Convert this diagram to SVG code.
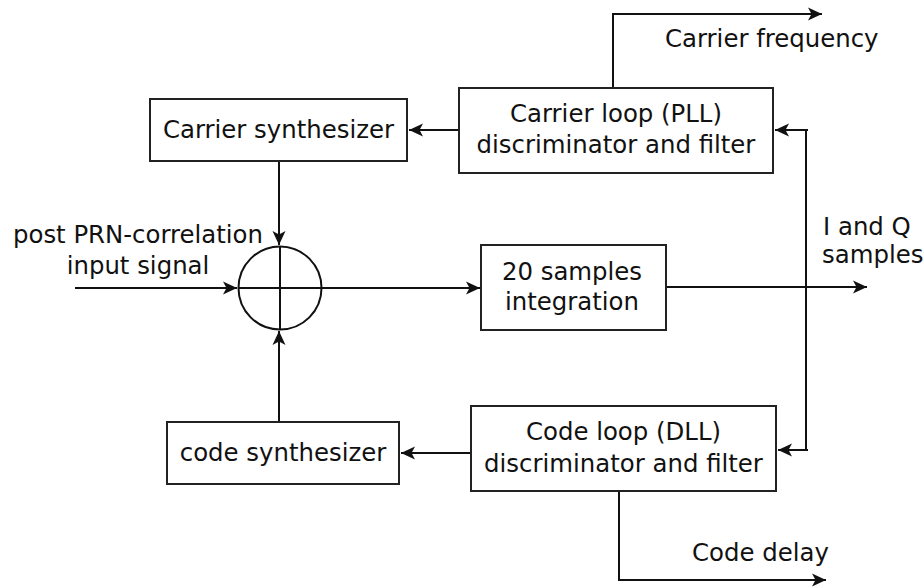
<svg xmlns="http://www.w3.org/2000/svg" width="924" height="588" viewBox="0 0 924 588">
<style>
.box{fill:#fff;stroke:#222;stroke-width:2}
.ln{fill:none;stroke:#111;stroke-width:2}
.t{font-family:"DejaVu Sans",sans-serif;font-size:24.4px;fill:#111}
.c{text-anchor:middle}
</style>
<defs>
<marker id="ah" markerUnits="userSpaceOnUse" markerWidth="16" markerHeight="14" refX="14" refY="7" orient="auto">
<path d="M0,0.5 L14,7 L0,13.5 L3.5,7 z" fill="#111"/>
</marker>
</defs>
<rect width="924" height="588" fill="#fff"/>
<g id="connectors">
<path class="ln" d="M459,130 H409" marker-end="url(#ah)"/>
<path class="ln" d="M613,88 V14 H822" marker-end="url(#ah)"/>
<path class="ln" d="M808,130 H775" marker-end="url(#ah)"/>
<path class="ln" d="M806,130 V450"/>
<path class="ln" d="M808,450 H778" marker-end="url(#ah)"/>
<path class="ln" d="M279,161 V245" marker-end="url(#ah)"/>
<path class="ln" d="M279,422 V331" marker-end="url(#ah)"/>
<path class="ln" d="M75,288 H237" marker-end="url(#ah)"/>
<path class="ln" d="M321,288 H480" marker-end="url(#ah)"/>
<path class="ln" d="M666,287 H867" marker-end="url(#ah)"/>
<path class="ln" d="M471,453 H401" marker-end="url(#ah)"/>
<path class="ln" d="M619,491 V580 H826" marker-end="url(#ah)"/>
</g>
<g id="carrier-synth">
<rect class="box" x="150" y="99" width="257" height="62"/>
<text class="t c" x="278.5" y="138">Carrier synthesizer</text>
</g>
<g id="carrier-loop">
<rect class="box" x="459" y="88" width="314" height="85"/>
<text class="t c" x="616" y="122">Carrier loop (PLL)</text>
<text class="t c" x="616" y="153">discriminator and filter</text>
</g>
<g id="mixer">
<circle cx="280" cy="288" r="41.5" fill="none" stroke="#111" stroke-width="2"/>
<path class="ln" d="M238.5,288 H321.5 M280,246.5 V329.5"/>
</g>
<g id="integration">
<rect class="box" x="481" y="245" width="185" height="85"/>
<text class="t c" x="572" y="280">20 samples</text>
<text class="t c" x="572" y="310">integration</text>
</g>
<g id="code-synth">
<rect class="box" x="167" y="422" width="232" height="62"/>
<text class="t c" x="283" y="461">code synthesizer</text>
</g>
<g id="code-loop">
<rect class="box" x="471" y="406" width="305" height="85"/>
<text class="t c" x="623.5" y="440">Code loop (DLL)</text>
<text class="t c" x="623.5" y="472">discriminator and filter</text>
</g>
<g id="labels">
<text class="t" x="665" y="47">Carrier frequency</text>
<text class="t c" x="138" y="243">post PRN-correlation</text>
<text class="t c" x="138" y="274">input signal</text>
<text class="t" x="823" y="235">I and Q</text>
<text class="t" x="822" y="263">samples</text>
<text class="t" x="692" y="561">Code delay</text>
</g>
</svg>
